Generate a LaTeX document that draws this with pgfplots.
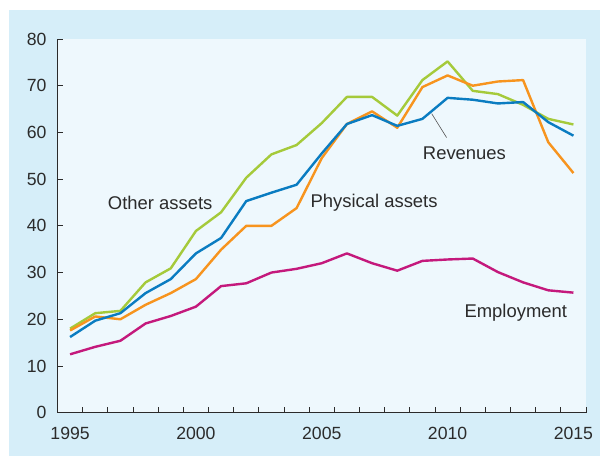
\documentclass[border=0pt]{standalone}
\usepackage{pgfplots}
\pgfplotsset{compat=1.18}
\usepackage{fontspec}
\setmainfont{Liberation Sans}
\definecolor{bgout}{HTML}{D6EEF9}
\definecolor{bgin}{HTML}{EEF8FD}
\definecolor{cgreen}{HTML}{A5CA3A}
\definecolor{corange}{HTML}{F7941E}
\definecolor{cblue}{HTML}{0A7CC1}
\definecolor{cmag}{HTML}{C4197C}
\definecolor{txt}{HTML}{2B2B2B}
\begin{document}
\begin{tikzpicture}[x=1bp,y=1bp]
\fill[white] (0,0) rectangle (600,456);
\fill[bgout] (9,0) rectangle (600,446);
\begin{axis}[
  at={(57.5bp,43.3bp)}, anchor=south west,
  scale only axis, width=528.5bp, height=373.7bp,
  xmin=1994.5, xmax=2015.5, ymin=0, ymax=80,
  axis x line*=bottom, axis y line*=left,
  axis line style={color=txt, line width=0.9bp, -},
  axis background/.style={fill=bgin},
  xtick={1995,2000,2005,2010,2015},
  minor xtick={1995.5,1996.5,...,2015.5},
  ytick={0,10,...,80},
  major tick length=5.5bp,
  minor tick length=5.5bp,
  major x tick style={draw=none},
  tick align=inside,
  tick style={color=txt, line width=0.8bp},
  x tick label style={/pgf/number format/1000 sep={}},
  /pgf/number format/assume math mode=true,
  xticklabel style={font=\fontsize{17.7}{20}\selectfont, text=txt, inner sep=0pt, anchor=north, yshift=-14.6bp},
  yticklabel style={font=\fontsize{17.7}{20}\selectfont, text=txt, inner sep=0pt, anchor=east, xshift=-10.8bp},
  clip=false,
  every axis plot/.append style={line width=2.4bp, line join=round, no markers},
]
\addplot[cgreen] coordinates {
(1995,18.0)(1996,21.3)(1997,21.8)(1998,27.9)(1999,30.9)(2000,38.9)(2001,42.9)(2002,50.3)(2003,55.3)(2004,57.3)
(2005,62.0)(2006,67.6)(2007,67.6)(2008,63.6)(2009,71.2)(2010,75.2)(2011,68.9)(2012,68.2)(2013,65.9)(2014,62.9)(2015,61.7)};
\addplot[corange] coordinates {
(1995,17.6)(1996,20.6)(1997,20.0)(1998,23.1)(1999,25.6)(2000,28.6)(2001,34.9)(2002,40.0)(2003,40.0)(2004,43.8)
(2005,54.5)(2006,61.8)(2007,64.5)(2008,61.0)(2009,69.7)(2010,72.2)(2011,70.0)(2012,70.9)(2013,71.2)(2014,57.9)(2015,51.3)};
\addplot[cblue] coordinates {
(1995,16.2)(1996,19.7)(1997,21.3)(1998,25.6)(1999,28.6)(2000,34.1)(2001,37.4)(2002,45.3)(2003,47.1)(2004,48.8)
(2005,55.5)(2006,61.8)(2007,63.7)(2008,61.4)(2009,62.9)(2010,67.4)(2011,67.0)(2012,66.2)(2013,66.5)(2014,62.2)(2015,59.3)};
\addplot[cmag] coordinates {
(1995,12.5)(1996,14.1)(1997,15.4)(1998,19.1)(1999,20.7)(2000,22.7)(2001,27.1)(2002,27.7)(2003,30.0)(2004,30.8)
(2005,32.0)(2006,34.1)(2007,32.0)(2008,30.4)(2009,32.5)(2010,32.8)(2011,33.0)(2012,30.1)(2013,27.9)(2014,26.2)(2015,25.7)};
\draw[txt!80, line width=0.6bp] (axis cs:2009.37,64.0) -- (axis cs:2009.96,58.9);
\begin{scope}[every node/.style={font=\fontsize{18.5}{21}\selectfont, text=txt, inner sep=0pt}]
\node at (axis cs:1998.58,44.9) {Other assets};
\node at (axis cs:2007.08,44.9) {Physical assets};
\node at (axis cs:2010.67,55.5) {Revenues};
\node at (axis cs:2012.71,21.3) {Employment};
\end{scope}
\end{axis}
\end{tikzpicture}
\end{document}
